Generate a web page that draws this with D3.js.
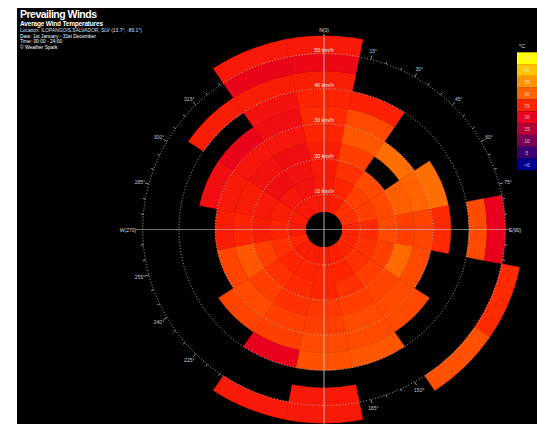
<!DOCTYPE html>
<html>
<head>
<meta charset="utf-8">
<script src="https://cdn.jsdelivr.net/npm/d3@7"></script>
<style>
  html, body { margin: 0; padding: 0; background: #fff; }
  svg { display: block; }
</style>
</head>
<body>
<div id="chart"></div>
<script>
// compass sectors, 22.5 degrees each
const sectors = ["N", "NNE", "NE", "ENE", "E", "ESE", "SE", "SSE", "S", "SSW", "SW", "WSW", "W", "WNW", "NW", "NNW"]
// speed bins, lower edge in km/h (5 km/h wide)
const speedBins = [5, 10, 15, 20, 25, 30, 35, 40, 45, 50]
// average temperature (°C) per sector and speed bin, null = no wind
const tempN   = [23.5, 23.5, 23.5, 24, 25, 25.5, 25, 24, 21, 23.5]
const tempNNE = [24, 25, 26, 27, 29, 28, 24.5]
const tempNE  = [26, 27, 28, null, 31]
const tempENE = [26, 27, 28, 29.5, 30, 31]
const tempE   = [25, 25.5, 28, 27, 27.5, 25.5, null, 28, 20]
const tempESE = [25, 26, 27, 30.5, 28, null, null, null, null, 25.5]
const tempSE  = [25, 26, 27, 27.5, 28, 28, null, null, null, 28.5]
const tempSSE = [24.5, 25, 26, 27, 28, 28, 29]
const tempS   = [24, 25, 25, 26.5, 27, 28, 28.5, null, 23.5, 23.5]
const tempSSW = [24, 25, 25.5, 26, 27, 27, 20, null, null, 23.5]
const tempSW  = [24, 25, 26, 27, 28, 27.5]
const tempWSW = [25, 26, 27, 29, 27.5]
const tempW   = [24, 25, 24, 25, 24]
const tempWNW = [24, 24, 23.5, 24, 23.5, 22]
const tempNW  = [23.5, 23, 22, 22.5, 23, 20.5, null, 24]
const tempNNW = [23.5, 22.5, 22.5, 22, 23, 22, 22.5, 24, 20.5, 23.5]
const temps = [tempN, tempNNE, tempNE, tempENE, tempE, tempESE, tempSE, tempSSE,
    tempS, tempSSW, tempSW, tempWSW, tempW, tempWNW, tempNW, tempNNW]

// legend
const legendLabels = ["45", "40", "35", "30", "25", "20", "15", "10", "5", "<0"]
const legendValues = [45, 40, 35, 30, 25, 20, 15, 10, 5, 0]
const legendColors = ["#ffff00", "#ffc400", "#ff9400", "#ff6400", "#ff2400", "#e8001c",
    "#b40034", "#780052", "#3a0070", "#00008e"]

const speedTicks = [10, 20, 30, 40, 50]
const subtitle = "Average Wind Temperatures"
const infoLines = ["Location: ILOPANGO/S.SALVADOR, SLV (13.7°, -89.1°)",
    "Date: 1st January - 31st December",
    "Time: 00:00 - 24:00",
    "© Weather Spark"]

const width = 537
const height = 424
const cx = 324, cy = 229.5
const stretch = 1.03

const svg = d3.select("#chart").append("svg")
    .attr("width", width)
    .attr("height", height)
    .style("font-family", "'Liberation Sans', Arial, sans-serif")

svg.append("rect")
    .attr("x", 17).attr("y", 8)
    .attr("width", width - 17).attr("height", height - 8)
    .attr("fill", "#000")

const rScale = d3.scaleLinear().domain([0, 55]).range([0, 193.6])

const color = d3.scaleLinear()
    .domain(legendValues.slice().reverse())
    .range(legendColors.slice().reverse())
    .clamp(true)

// degree ticks on the 50 km/h ring (drawn under the cells)
const ringR = rScale(50)
const degs = d3.range(0, 360, 5)
const pt = (deg, r) => {
    const a = deg * Math.PI / 180
    return [cx + Math.sin(a) * r * stretch, cy - Math.cos(a) * r]
}
svg.selectAll("line.tick")
    .data(degs.filter(d => d % 90 !== 0))
    .enter().append("line")
    .attr("class", "tick")
    .attr("x1", d => pt(d, ringR)[0])
    .attr("y1", d => pt(d, ringR)[1])
    .attr("x2", d => pt(d, ringR + (d % 15 === 0 ? 4 : 2.5))[0])
    .attr("y2", d => pt(d, ringR + (d % 15 === 0 ? 4 : 2.5))[1])
    .attr("stroke", "#cfcfcf")
    .attr("stroke-width", 0.7)

svg.selectAll("text.deg")
    .data(degs.filter(d => d % 15 === 0 && d % 90 !== 0))
    .enter().append("text")
    .attr("class", "deg")
    .attr("x", d => pt(d, ringR + 9)[0])
    .attr("y", d => pt(d, ringR + 9)[1] + 2)
    .attr("text-anchor", "middle")
    .attr("font-size", "5px")
    .attr("fill", "#b8c8d8")
    .text(d => d + "°")

const rose = svg.append("g")
    .attr("transform", `translate(${cx},${cy}) scale(${stretch},1)`)

const cells = []
temps.forEach((arr, i) => {
    arr.forEach((t, j) => {
        if (t !== null) cells.push({ sector: i, speed: speedBins[j], temp: t })
    })
})

const step = 2 * Math.PI / sectors.length
const arc = d3.arc()
    .innerRadius(d => rScale(d.speed))
    .outerRadius(d => rScale(d.speed + 5))
    .startAngle(d => d.sector * step - step / 2)
    .endAngle(d => d.sector * step + step / 2)

rose.selectAll("path.cell")
    .data(cells)
    .enter().append("path")
    .attr("class", "cell")
    .attr("d", arc)
    .attr("fill", d => color(d.temp))
    .attr("stroke", d => color(d.temp))
    .attr("stroke-width", 0.4)

// calm hole
rose.append("circle")
    .attr("r", rScale(5))
    .attr("fill", "#000")

// speed rings
rose.selectAll("circle.ring")
    .data(speedTicks)
    .enter().append("circle")
    .attr("class", "ring")
    .attr("r", d => rScale(d))
    .attr("fill", "none")
    .attr("stroke", "#d8d8d8")
    .attr("stroke-width", 0.8)
    .attr("stroke-dasharray", "1,2")
    .attr("vector-effect", "non-scaling-stroke")

// axis cross
svg.append("line")
    .attr("x1", cx).attr("x2", cx)
    .attr("y1", 34).attr("y2", height)
    .attr("stroke", "#c8c8c8").attr("stroke-width", 1).attr("opacity", 0.85)
svg.append("line")
    .attr("x1", 136).attr("x2", 510)
    .attr("y1", cy).attr("y2", cy)
    .attr("stroke", "#c8c8c8").attr("stroke-width", 0.8).attr("opacity", 0.7)

const cardinals = [["N(0)", cx, 32], ["E(90)", 515, cy + 2], ["W(270)", 128, cy + 2]]
svg.selectAll("text.card")
    .data(cardinals)
    .enter().append("text")
    .attr("class", "card")
    .attr("x", d => d[1]).attr("y", d => d[2])
    .attr("text-anchor", "middle")
    .attr("font-size", "5px")
    .attr("fill", "#dddddd")
    .text(d => d[0])

// speed labels along north axis
svg.selectAll("text.speed")
    .data(speedTicks)
    .enter().append("text")
    .attr("class", "speed")
    .attr("x", cx)
    .attr("y", d => cy - rScale(d) - 1.5)
    .attr("text-anchor", "middle")
    .attr("font-size", "5.5px")
    .attr("fill", "#f0f0f0")
    .text(d => d + " km/h")

// legend
const legendTop = 52.3, boxH = 11.8
svg.append("text")
    .attr("x", 522).attr("y", 48)
    .attr("text-anchor", "middle")
    .attr("font-size", "6px")
    .attr("fill", "#ddd")
    .text("°C")
svg.selectAll("rect.leg")
    .data(legendColors)
    .enter().append("rect")
    .attr("class", "leg")
    .attr("x", 517).attr("y", (d, i) => legendTop + i * boxH)
    .attr("width", 20).attr("height", boxH)
    .attr("fill", d => d)
svg.selectAll("text.leg")
    .data(legendLabels)
    .enter().append("text")
    .attr("class", "leg")
    .attr("x", 527).attr("y", (d, i) => legendTop + i * boxH + 8)
    .attr("text-anchor", "middle")
    .attr("font-size", "5px")
    .attr("fill", "#e8e8e8")
    .attr("opacity", 0.8)
    .text(d => d)

// title block
svg.append("text")
    .attr("x", 20).attr("y", 18.3)
    .attr("font-size", "10.5px")
    .attr("font-weight", "bold")
    .attr("textLength", 77)
    .attr("fill", "#fff")
    .text("Prevailing Winds")
svg.append("text")
    .attr("x", 20).attr("y", 26.4)
    .attr("font-size", "6.5px")
    .attr("font-weight", "bold")
    .attr("textLength", 83)
    .attr("fill", "#fff")
    .text(subtitle)
svg.selectAll("text.info")
    .data(infoLines)
    .enter().append("text")
    .attr("class", "info")
    .attr("x", 20)
    .attr("y", (d, i) => 32 + i * 5.65)
    .attr("font-size", "4.9px")
    .attr("fill", (d, i) => i === 0 ? "#cfe0ff" : "#fff")
    .text(d => d)
</script>
</body>
</html>
